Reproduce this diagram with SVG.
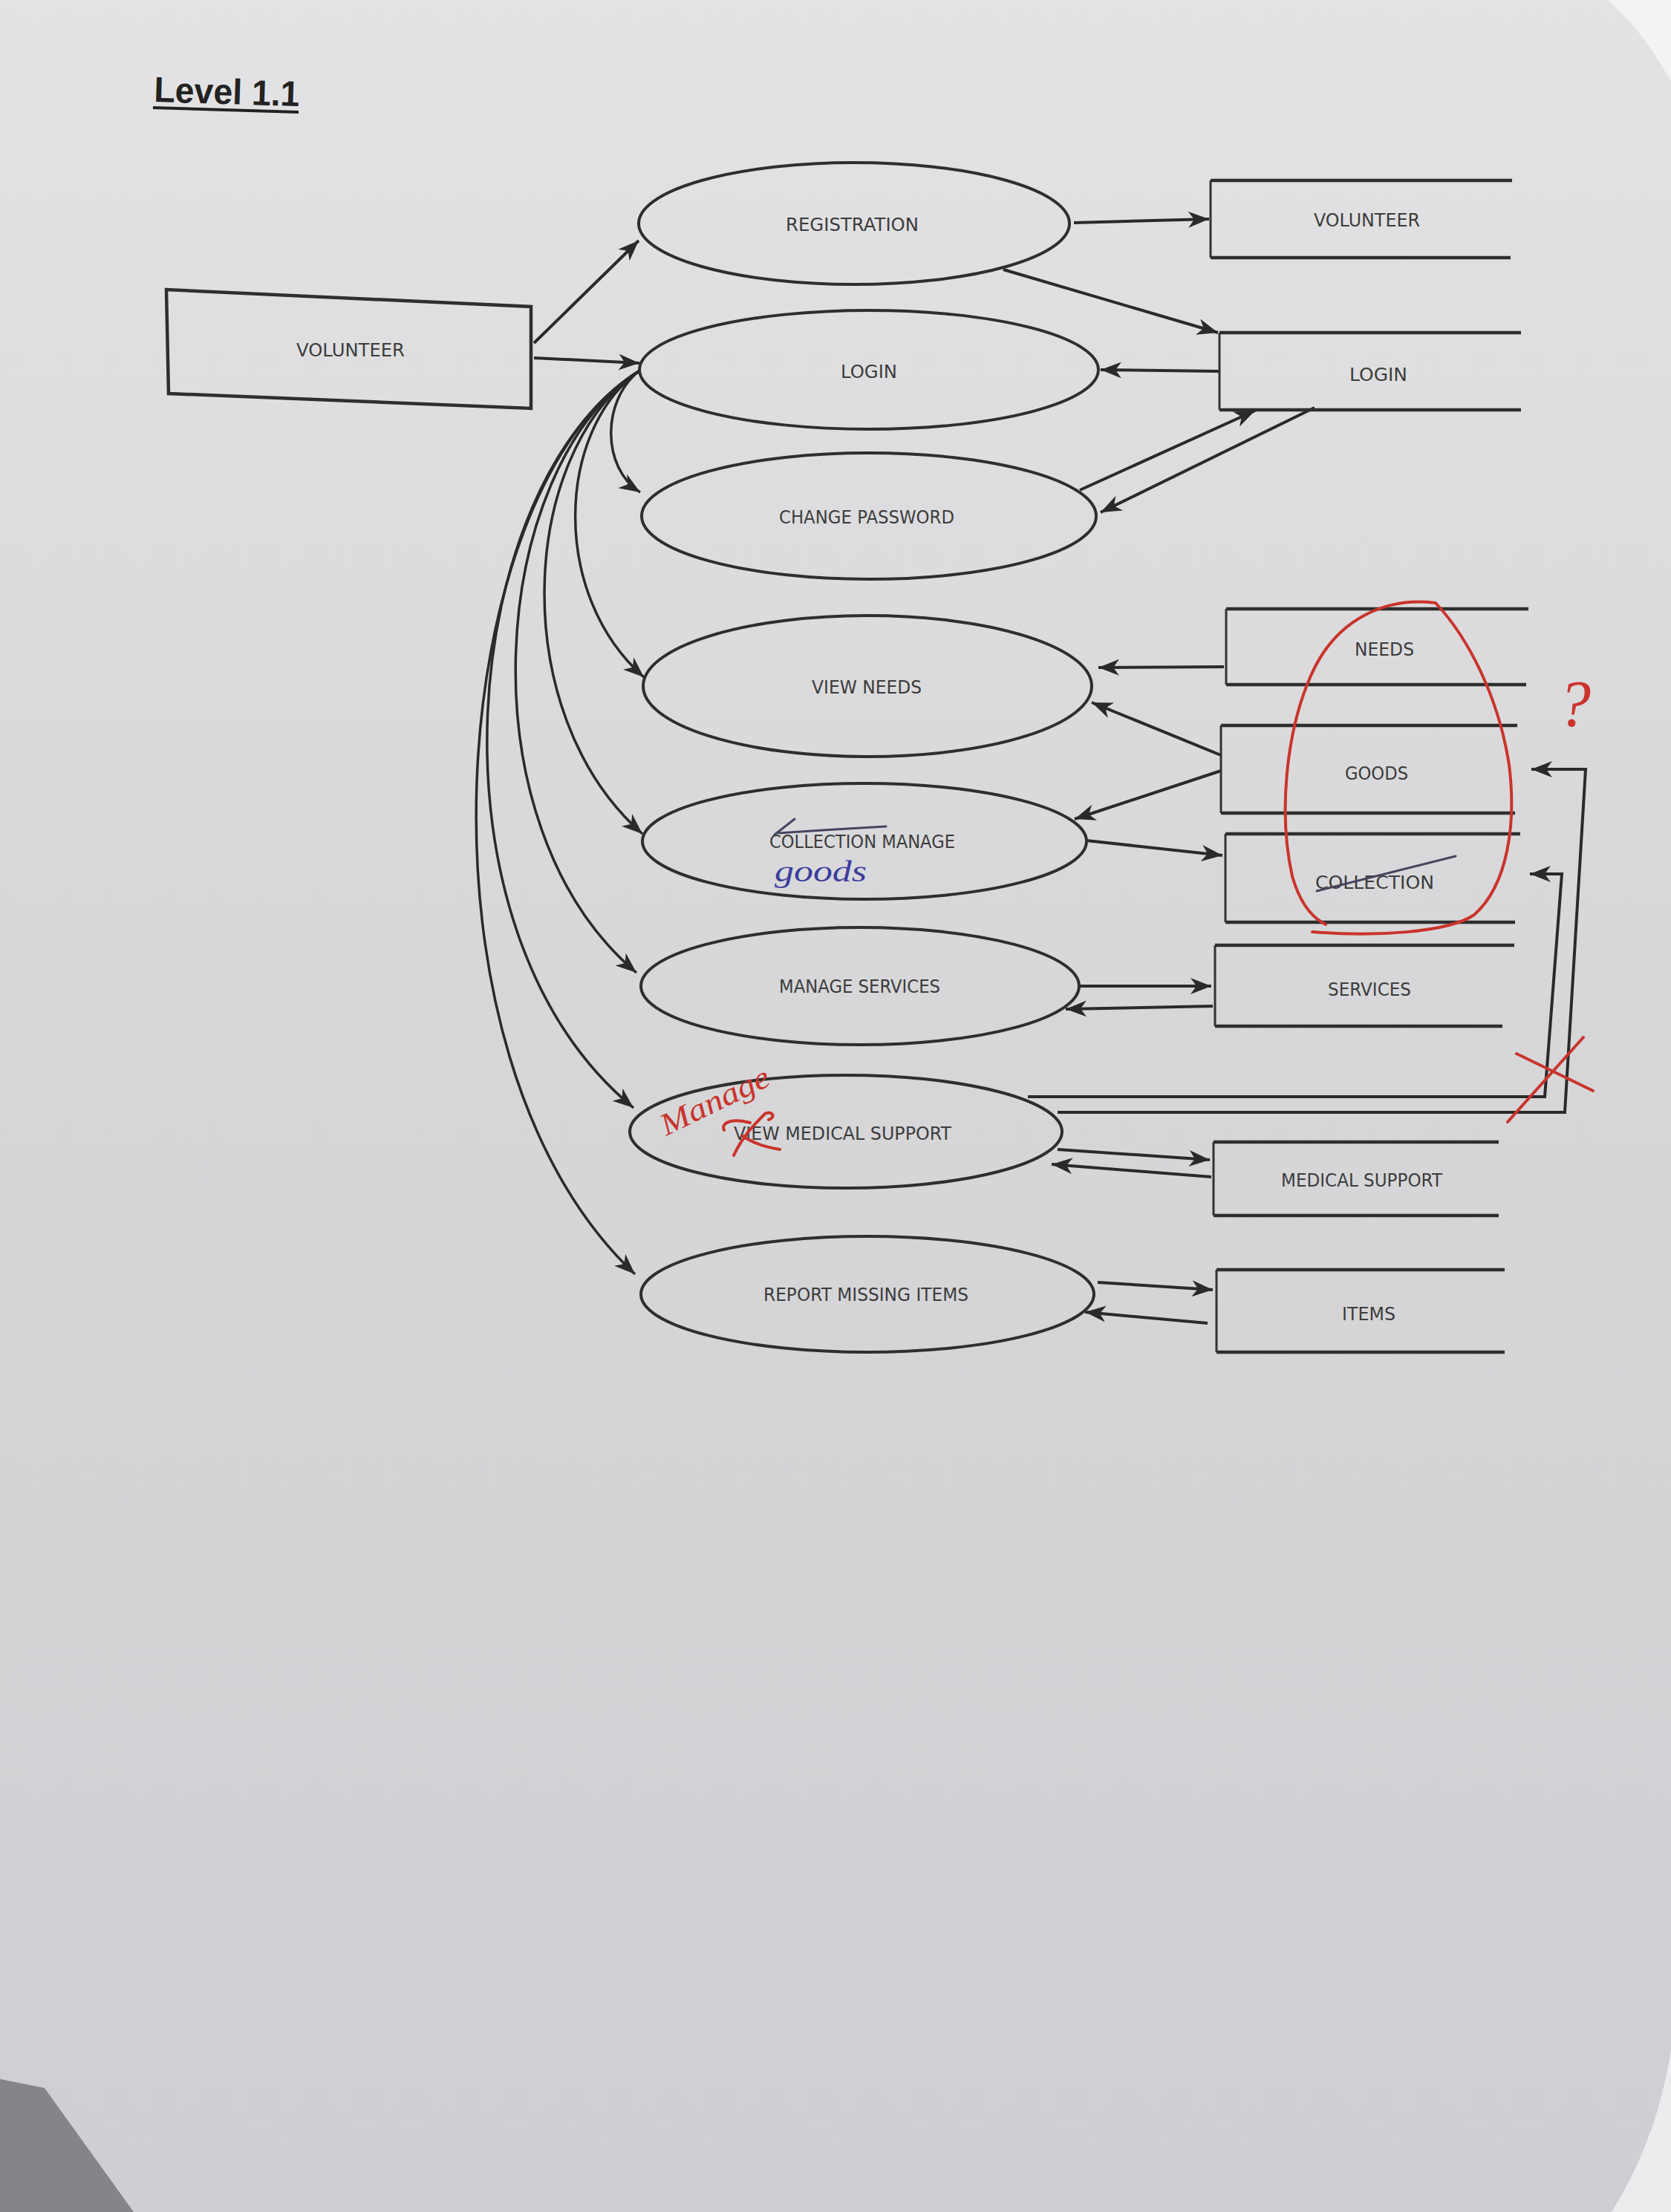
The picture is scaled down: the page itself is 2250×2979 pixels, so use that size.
<svg xmlns="http://www.w3.org/2000/svg" width="2250" height="2979" viewBox="0 0 2250 2979">
<defs>
<linearGradient id="bg" x1="0" y1="0" x2="0" y2="1">
<stop offset="0" stop-color="#e3e3e5"/>
<stop offset="0.45" stop-color="#d7d7d9"/>
<stop offset="1" stop-color="#cfcfd3"/>
</linearGradient>
<marker id="ah" markerWidth="30" markerHeight="22" refX="28" refY="11" orient="auto" markerUnits="userSpaceOnUse">
<path d="M0,0 L28,11 L0,22 L8,11 Z" fill="#2a2a2a"/>
</marker>
<style>
.proc{fill:none;stroke:#2e2e2e;stroke-width:4}
.store{fill:none;stroke:#2e2e2e;stroke-width:4.5}
.side{fill:none;stroke:#333;stroke-width:3}
.lbl{font-family:"DejaVu Sans","Liberation Sans",sans-serif;font-size:24px;fill:#3c3c3c}
.flow{fill:none;stroke:#2a2a2a;stroke-width:4;marker-end:url(#ah)}
.curve{fill:none;stroke:#2a2a2a;stroke-width:3.5;marker-end:url(#ah)}
.red{fill:none;stroke:#c9342c;stroke-width:4;stroke-linecap:round}
.pen{fill:none;stroke:#45455f;stroke-width:3;stroke-linecap:round}
</style>
</defs>
<rect x="0" y="0" width="2250" height="2979" fill="url(#bg)"/>
<path d="M2165 0 L2250 0 L2250 110 Q2215 45 2165 0 Z" fill="#f3f3f5"/>
<path d="M2250 2760 L2250 2979 L2170 2979 Q2232 2880 2250 2760 Z" fill="#ececee"/>
<path d="M0 2800 L60 2812 L180 2979 L0 2979 Z" fill="#84848b"/>

<g id="title">
<text x="207" y="137" transform="rotate(1.8 207 137)" font-family="Liberation Sans, Arial, sans-serif" font-weight="bold" font-size="48" fill="#222" textLength="196" lengthAdjust="spacingAndGlyphs">Level 1.1</text>
<line x1="206" y1="145" x2="402" y2="151" stroke="#222" stroke-width="4"/>
</g>

<g id="connectors">
<path class="flow" d="M719 462 L860 324"/>
<path class="flow" d="M719 482 L861 489"/>
<path class="flow" d="M1446 300 L1628 295"/>
<path class="flow" d="M1351 363 L1640 448"/>
<path class="flow" d="M1642 500 L1482 498"/>
<path class="flow" d="M1454 660 L1690 553"/>
<path class="flow" d="M1770 549 L1482 690"/>
<path class="flow" d="M1648 898 L1479 899"/>
<path class="flow" d="M1644 1017 L1470 946"/>
<path class="flow" d="M1644 1038 L1447 1103"/>
<path class="flow" d="M1463 1132 L1646 1152"/>
<path class="flow" d="M1452 1328 L1631 1328"/>
<path class="flow" d="M1633 1355 L1435 1359"/>
<path class="flow" d="M1424 1548 L1629 1562"/>
<path class="flow" d="M1631 1585 L1416 1568"/>
<path class="flow" d="M1478 1727 L1633 1737"/>
<path class="flow" d="M1626 1782 L1461 1767"/>
<path class="flow" d="M1384 1477 L2080 1477 L2103 1177 L2060 1177"/>
<path class="flow" d="M1424 1498 L2107 1498 L2135 1036 L2062 1036"/>
<path class="curve" d="M860 500 C810 540 810 630 862 663"/>
<path class="curve" d="M860 500 C750 580 740 800 867 912"/>
<path class="curve" d="M860 500 C700 610 680 960 865 1123"/>
<path class="curve" d="M860 500 C660 630 620 1110 857 1310"/>
<path class="curve" d="M860 500 C620 650 560 1250 853 1492"/>
<path class="curve" d="M860 500 C600 660 540 1420 855 1716"/>
</g>

<g id="ext-volunteer">
<polygon points="224,390 715,413 715,550 227,530" class="store"/>
<text class="lbl" x="399" y="480" textLength="146" lengthAdjust="spacingAndGlyphs">VOLUNTEER</text>
</g>

<g id="p-registration">
<ellipse cx="1150" cy="301" rx="290" ry="82" class="proc"/>
<text class="lbl" x="1058" y="311" textLength="179" lengthAdjust="spacingAndGlyphs">REGISTRATION</text>
</g>
<g id="p-login">
<ellipse cx="1170" cy="498" rx="309" ry="80" class="proc"/>
<text class="lbl" x="1132" y="509" textLength="76" lengthAdjust="spacingAndGlyphs">LOGIN</text>
</g>
<g id="p-change-password">
<ellipse cx="1170" cy="695" rx="306" ry="85" class="proc"/>
<text class="lbl" x="1049" y="705" textLength="236" lengthAdjust="spacingAndGlyphs">CHANGE PASSWORD</text>
</g>
<g id="p-view-needs">
<ellipse cx="1168" cy="924" rx="302" ry="95" class="proc"/>
<text class="lbl" x="1093" y="934" textLength="148" lengthAdjust="spacingAndGlyphs">VIEW NEEDS</text>
</g>
<g id="p-collection-manage">
<ellipse cx="1164" cy="1133" rx="299" ry="78" class="proc"/>
<text class="lbl" x="1036" y="1142" textLength="250" lengthAdjust="spacingAndGlyphs">COLLECTION MANAGE</text>
<path class="pen" d="M1043 1124 L1070 1103 M1048 1122 Q1120 1117 1193 1113"/>
<text x="1043" y="1187" font-family="Liberation Serif, serif" font-style="italic" font-size="40" fill="#3d3d9e" textLength="124" lengthAdjust="spacingAndGlyphs">goods</text>
</g>
<g id="p-manage-services">
<ellipse cx="1158" cy="1328" rx="295" ry="79" class="proc"/>
<text class="lbl" x="1049" y="1337" textLength="217" lengthAdjust="spacingAndGlyphs">MANAGE SERVICES</text>
</g>
<g id="p-view-medical-support">
<ellipse cx="1139" cy="1524" rx="291" ry="76" class="proc"/>
<text class="lbl" x="988" y="1535" textLength="293" lengthAdjust="spacingAndGlyphs">VIEW MEDICAL SUPPORT</text>
<text x="897" y="1530" transform="rotate(-26 897 1530)" font-family="Liberation Serif, serif" font-style="italic" font-size="42" fill="#c9342c" textLength="159" lengthAdjust="spacingAndGlyphs">Manage</text>
<path class="red" stroke-width="3" d="M975 1522 C970 1510 990 1506 1010 1512 M988 1556 C1000 1530 1015 1515 1030 1500 C1040 1495 1045 1505 1035 1508 M1000 1530 C1015 1540 1030 1545 1050 1548"/>
</g>
<g id="p-report-missing-items">
<ellipse cx="1168" cy="1743" rx="305" ry="78" class="proc"/>
<text class="lbl" x="1028" y="1752" textLength="276" lengthAdjust="spacingAndGlyphs">REPORT MISSING ITEMS</text>
</g>

<g id="ds-volunteer">
<line x1="1630" y1="243" x2="2036" y2="243" class="store"/>
<line x1="1630" y1="347" x2="2034" y2="347" class="store"/>
<line x1="1630" y1="243" x2="1630" y2="347" class="side"/>
<text class="lbl" x="1769" y="305" textLength="143" lengthAdjust="spacingAndGlyphs">VOLUNTEER</text>
</g>
<g id="ds-login">
<line x1="1642" y1="448" x2="2048" y2="448" class="store"/>
<line x1="1642" y1="552" x2="2048" y2="552" class="store"/>
<line x1="1642" y1="448" x2="1642" y2="552" class="side"/>
<text class="lbl" x="1817" y="513" textLength="78" lengthAdjust="spacingAndGlyphs">LOGIN</text>
</g>
<g id="ds-needs">
<line x1="1651" y1="820" x2="2058" y2="820" class="store"/>
<line x1="1651" y1="922" x2="2055" y2="922" class="store"/>
<line x1="1651" y1="820" x2="1651" y2="922" class="side"/>
<text class="lbl" x="1824" y="883" textLength="80" lengthAdjust="spacingAndGlyphs">NEEDS</text>
</g>
<g id="ds-goods">
<line x1="1644" y1="977" x2="2043" y2="977" class="store"/>
<line x1="1644" y1="1095" x2="2040" y2="1095" class="store"/>
<line x1="1644" y1="977" x2="1644" y2="1095" class="side"/>
<text class="lbl" x="1811" y="1050" textLength="85" lengthAdjust="spacingAndGlyphs">GOODS</text>
</g>
<g id="ds-collection">
<line x1="1650" y1="1123" x2="2047" y2="1123" class="store"/>
<line x1="1650" y1="1242" x2="2040" y2="1242" class="store"/>
<line x1="1650" y1="1123" x2="1650" y2="1242" class="side"/>
<text class="lbl" x="1771" y="1197" textLength="160" lengthAdjust="spacingAndGlyphs">COLLECTION</text>
<path class="pen" stroke="#4a4a78" d="M1773 1200 L1960 1153"/>
</g>
<g id="ds-services">
<line x1="1636" y1="1273" x2="2039" y2="1273" class="store"/>
<line x1="1636" y1="1382" x2="2023" y2="1382" class="store"/>
<line x1="1636" y1="1273" x2="1636" y2="1382" class="side"/>
<text class="lbl" x="1788" y="1341" textLength="112" lengthAdjust="spacingAndGlyphs">SERVICES</text>
</g>
<g id="ds-medical-support">
<line x1="1634" y1="1538" x2="2018" y2="1538" class="store"/>
<line x1="1634" y1="1637" x2="2018" y2="1637" class="store"/>
<line x1="1634" y1="1538" x2="1634" y2="1637" class="side"/>
<text class="lbl" x="1725" y="1598" textLength="217" lengthAdjust="spacingAndGlyphs">MEDICAL SUPPORT</text>
</g>
<g id="ds-items">
<line x1="1638" y1="1710" x2="2026" y2="1710" class="store"/>
<line x1="1638" y1="1821" x2="2026" y2="1821" class="store"/>
<line x1="1638" y1="1710" x2="1638" y2="1821" class="side"/>
<text class="lbl" x="1807" y="1778" textLength="72" lengthAdjust="spacingAndGlyphs">ITEMS</text>
</g>

<g id="annotations">
<path class="red" d="M1767 1255 C1850 1262 1950 1256 1985 1232 C2030 1192 2042 1110 2032 1030 C2018 940 1978 860 1933 812 C1870 804 1800 830 1765 910 C1730 990 1722 1100 1740 1180 C1750 1215 1765 1235 1785 1245"/>
<text x="2098" y="977" font-family="Liberation Serif, serif" font-style="italic" font-size="88" fill="#c9342c">?</text>
<path class="red" d="M2042 1419 L2145 1469 M2132 1397 L2030 1511"/>
</g>
</svg>
